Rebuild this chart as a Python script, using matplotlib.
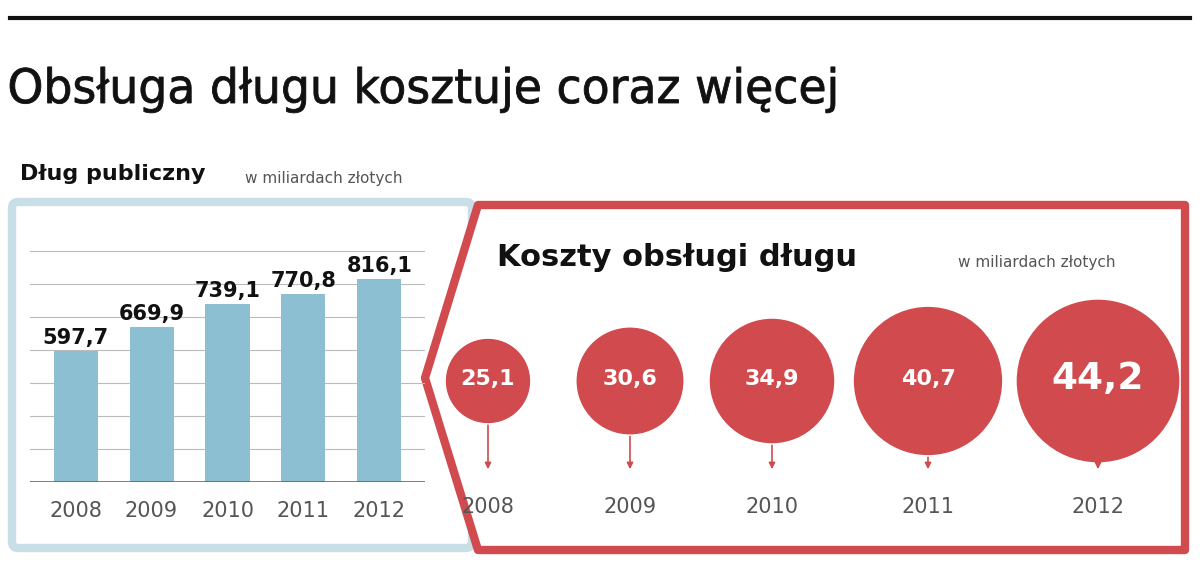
import matplotlib
matplotlib.use("Agg")
import matplotlib.pyplot as plt
from matplotlib.patches import Circle, Polygon, FancyBboxPatch, PathPatch
from matplotlib.textpath import TextPath
from matplotlib.font_manager import FontProperties
from matplotlib.transforms import Affine2D
import numpy as np

years = ["2008", "2009", "2010", "2011", "2012"]
debt = [597.7, 669.9, 739.1, 770.8, 816.1]
debt_labels = ["597,7", "669,9", "739,1", "770,8", "816,1"]
cost = [25.1, 30.6, 34.9, 40.7, 44.2]
cost_labels = ["25,1", "30,6", "34,9", "40,7", "44,2"]

BLUE = "#8dbfd3"; LBLUE = "#c8dfe8"; RED = "#d04a4e"; GREY = "#555555"

fig = plt.figure(figsize=(12, 5.76), dpi=100)
bg = fig.add_axes([0, 0, 1, 1])
bg.set_xlim(0, 1200); bg.set_ylim(576, 0); bg.axis("off")

bg.plot([10, 1190], [18, 18], color="#111", lw=3)

# condensed title via scaled text path
tp = TextPath((0, 0), "Obsługa długu kosztuje coraz więcej", size=50,
              prop=FontProperties(family="DejaVu Sans"))
ext = tp.get_extents()
sx = (835 - 10) / ext.width
tr = Affine2D().scale(sx, -0.95).translate(10 - ext.x0 * sx, 103)
bg.add_patch(PathPatch(tr.transform_path(tp), fc="#111", ec="#111", lw=0.6))

bg.text(20, 174, "Dług publiczny", fontsize=16, weight="bold", va="center", color="#111")
bg.text(245, 178, "w miliardach złotych", fontsize=11, va="center", color=GREY)

bg.add_patch(FancyBboxPatch((12, 202), 460, 346, boxstyle="round,pad=0,rounding_size=6",
                            fc="white", ec=LBLUE, lw=6))

red = Polygon([(478, 205), (1185, 205), (1185, 550), (478, 550), (425, 378)],
              closed=True, fc="white", ec=RED, lw=6, joinstyle="round")
bg.add_patch(red)
bg.text(497, 257, "Koszty obsługi długu", fontsize=22, weight="bold", va="center", color="#111")
bg.text(958, 262, "w miliardach złotych", fontsize=11, va="center", color=GREY)

# bar chart
ax = fig.add_axes([30/1200, (576-482)/576, 395/1200, (482-245)/576])
x = np.arange(len(years))
ax.set_ylim(200, 919); ax.set_xlim(-0.6, 4.6)
ax.bar(x, [d - 200 for d in debt], bottom=200, width=0.58, color=BLUE, zorder=2)
for yv in range(300, 919, 100):
    ax.axhline(yv, color="#bbbbbb", lw=0.8, zorder=1)
ax.axhline(200, color="#666", lw=1.2, zorder=3)
for xi, v, l in zip(x, debt, debt_labels):
    ax.text(xi, v + 10, l, ha="center", va="bottom", fontsize=15, weight="bold", color="#111")
ax.set_xticks(x); ax.set_xticklabels(years, fontsize=15, color=GREY)
ax.tick_params(length=0, pad=14)
ax.set_yticks([])
for s in ax.spines.values():
    s.set_visible(False)
ax.patch.set_alpha(0)

# bubbles
cx = [488, 630, 772, 928, 1098]
cy = 381
for xc, v, l, yr in zip(cx, cost, cost_labels, years):
    r = 2.05 * v - 10
    bg.add_patch(Circle((xc, cy), r, color=RED, zorder=3))
    big = v == max(cost)
    bg.text(xc, cy - 2, l, ha="center", va="center", color="white", weight="bold",
            fontsize=27 if big else 16, zorder=4)
    bg.annotate("", xy=(xc, 472), xytext=(xc, cy + r),
                arrowprops=dict(arrowstyle="-|>", color=RED, lw=1.2, mutation_scale=9))
    bg.text(xc, 507, yr, ha="center", va="center", fontsize=15, color=GREY)

fig.savefig("out.png", dpi=100)
